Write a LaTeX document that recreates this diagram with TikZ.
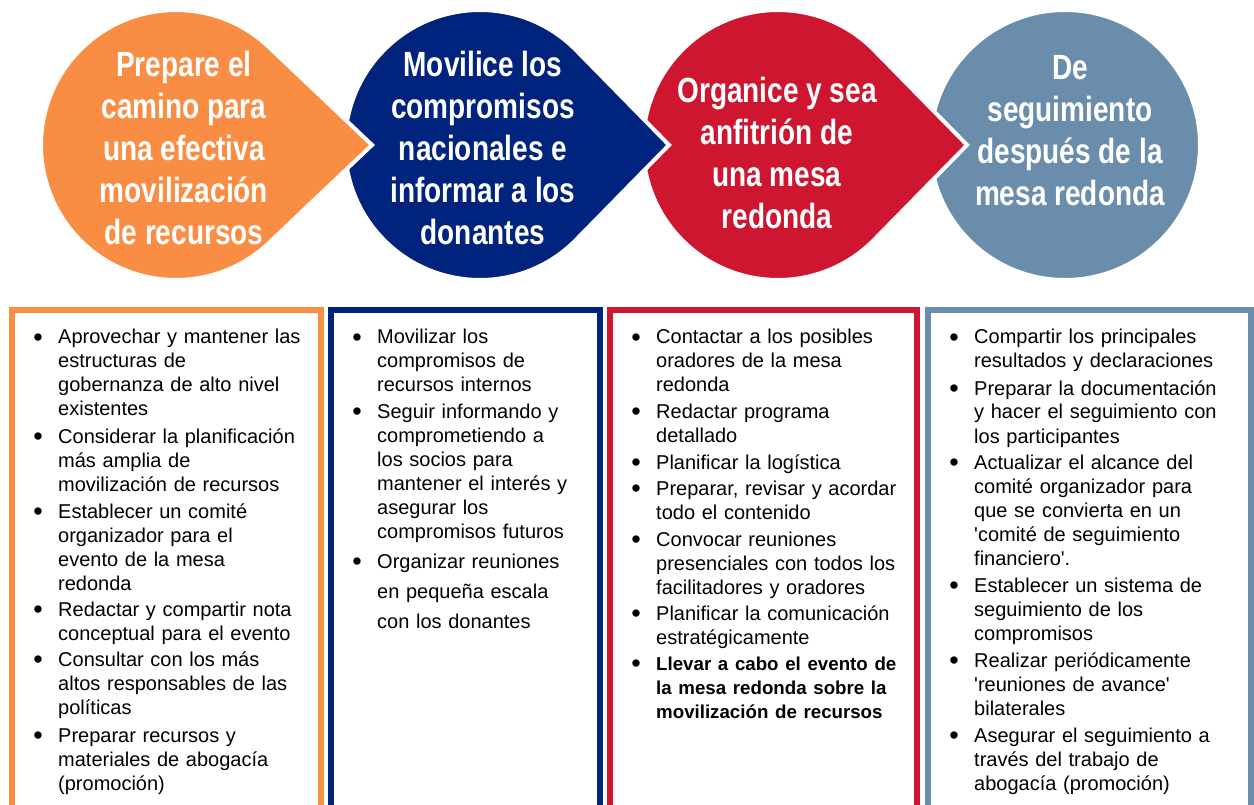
\documentclass[tikz,border=0pt]{standalone}
\usepackage{fontspec}
\setmainfont{Liberation Sans}
\newfontfamily\headfont[FakeStretch=0.8]{Liberation Sans}
\usepackage{tikz}
\usetikzlibrary{calc}

\definecolor{prepOrange}{RGB}{250,141,68}
\definecolor{mobNavy}{RGB}{0,36,125}
\definecolor{hostRed}{RGB}{206,22,48}
\definecolor{followGray}{RGB}{106,141,171}

\tikzset{
  drop/.style={draw=white, line width=4pt},
  head/.style={text=white, align=center, inner sep=0pt,
    font=\headfont\bfseries\fontsize{35}{42}\selectfont},
  panel/.style={line width=6pt},
  itm/.style={anchor=base west, inner sep=0pt, text width=280pt, align=left,
    font=\fontsize{20}{24}\selectfont},
  bul/.style={anchor=base, inner sep=0pt, font=\fontsize{27}{24}\selectfont}
}

% name, x, baseline, lines
\newcommand{\bitem}[4]{%
  \node[bul] (#1b) at (#2-20,#3+2) {\textbullet};
  \node[itm] (#1) at (#2,#3) {#4};}
\newcommand{\q}{\textquotesingle}

\begin{document}
\begin{tikzpicture}[x=1pt,y=-1pt]
  \useasboundingbox (0,0) rectangle (1254,805);

  \coordinate (c1) at (176,145);
  \coordinate (c2) at (480,145);
  \coordinate (c3) at (778,145);
  \coordinate (c4) at (1065,145);

  % drops, right to left so each tip cuts into the next one
  \filldraw[drop, fill=followGray] (c4) circle[radius=135];
  \filldraw[drop, fill=hostRed] ($(c3)+(189,0)$) -- ($(c3)+(45.5:135)$)
    arc[start angle=45.5, end angle=314.5, radius=135] -- cycle;
  \filldraw[drop, fill=mobNavy] ($(c2)+(189,0)$) -- ($(c2)+(45.5:135)$)
    arc[start angle=45.5, end angle=314.5, radius=135] -- cycle;
  \filldraw[drop, fill=prepOrange] ($(c1)+(196,0)$) -- ($(c1)+(46.5:135)$)
    arc[start angle=46.5, end angle=313.5, radius=135] -- cycle;

  \node[head] (h1) at (184,148) {Prepare el\\camino para\\una efectiva\\movilización\\de recursos};
  \node[head] (h2) at (483,148) {Movilice los\\compromisos\\nacionales e\\informar a los\\donantes};
  \node[head] (h3) at (777,153) {Organice y sea\\anfitrión de\\una mesa\\redonda};
  \node[head] (h4) at (1070,131) {De\\seguimiento\\después de la\\mesa redonda};

  % panels
  \draw[panel, prepOrange] (12,812) -- (12,310) -- (321,310) -- (321,812);
  \draw[panel, mobNavy] (331,812) -- (331,310) -- (600,310) -- (600,812);
  \draw[panel, hostRed] (610,812) -- (610,310) -- (917,310) -- (917,812);
  \draw[panel, followGray] (928,812) -- (928,310) -- (1251,310) -- (1251,812);

  \bitem{o1}{58}{344}{Aprovechar y mantener las\\estructuras de\\gobernanza de alto nivel\\existentes}
  \bitem{o2}{58}{443}{Considerar la planificación\\más amplia de\\movilización de recursos}
  \bitem{o3}{58}{518}{Establecer un comité\\organizador para el\\evento de la mesa\\redonda}
  \bitem{o4}{58}{616}{Redactar y compartir nota\\conceptual para el evento}
  \bitem{o5}{58}{666}{Consultar con los más\\altos responsables de las\\políticas}
  \bitem{o6}{58}{742}{Preparar recursos y\\materiales de abogacía\\(promoción)}

  \bitem{m1}{377}{344}{Movilizar los\\compromisos de\\recursos internos}
  \bitem{m2}{377}{418}{Seguir informando y\\comprometiendo a\\los socios para\\mantener el interés y\\asegurar los\\compromisos futuros}
  \bitem{m3}{377}{568}{Organizar reuniones\\[6pt]en pequeña escala\\[6pt]con los donantes}

  \bitem{r1}{656}{344}{Contactar a los posibles\\oradores de la mesa\\redonda}
  \bitem{r2}{656}{418}{Redactar programa\\detallado}
  \bitem{r3}{656}{469}{Planificar la logística}
  \bitem{r4}{656}{495}{Preparar, revisar y acordar\\todo el contenido}
  \bitem{r5}{656}{546}{Convocar reuniones\\presenciales con todos los\\facilitadores y oradores}
  \bitem{r6}{656}{620}{Planificar la comunicación\\estratégicamente}
  \bitem{r7}{656}{670}{\bfseries\fontsize{18.7}{24}\selectfont Llevar a cabo el evento de\\la mesa redonda sobre la\\movilización de recursos}

  \bitem{f1}{974}{344}{Compartir los principales\\resultados y declaraciones}
  \bitem{f2}{974}{395}{Preparar la documentación\\y hacer el seguimiento con\\los participantes}
  \bitem{f3}{974}{469}{Actualizar el alcance del\\comité organizador para\\que se convierta en un\\\q comité de seguimiento\\financiero\q.}
  \bitem{f4}{974}{592}{Establecer un sistema de\\seguimiento de los\\compromisos}
  \bitem{f5}{974}{667}{Realizar periódicamente\\\q reuniones de avance\q\\bilaterales}
  \bitem{f6}{974}{742}{Asegurar el seguimiento a\\través del trabajo de\\abogacía (promoción)}
\end{tikzpicture}
\end{document}
